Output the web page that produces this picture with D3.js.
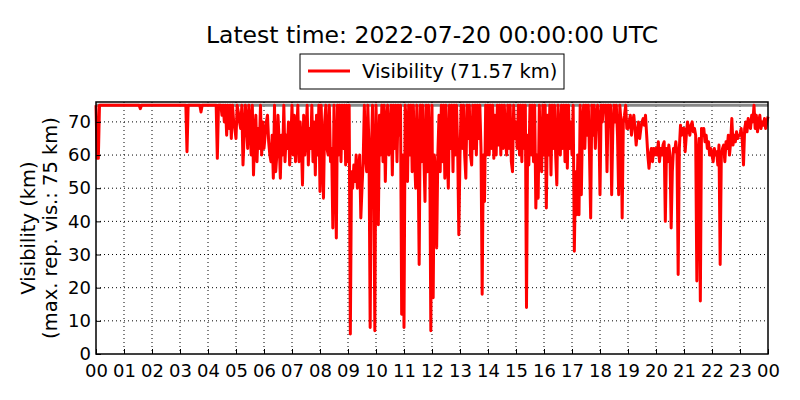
<!DOCTYPE html>
<html>
<head>
<meta charset="utf-8">
<script src="https://cdn.jsdelivr.net/npm/d3@7"></script>
<style>
  body { margin: 0; background: #fff; }
  svg text { font-family: "DejaVu Sans", sans-serif; fill: #000; }
</style>
</head>
<body>
<div id="chart"></div>
<script>
// Chart data
let titleText = 'Latest time: 2022-07-20 00:00:00 UTC'
let seriesName = 'Visibility'
let latestValue = 71.57
let maxReportedVis = 75
let startTime = new Date(Date.UTC(2022, 6, 19, 0, 0))
let endTime = new Date(Date.UTC(2022, 6, 20, 0, 0))
let stepMinutes = 2.5
let yTicks = [0, 10, 20, 30, 40, 50, 60, 70]

// visibility (km), one row per hour, 2.5 min steps
let visibility = [
  75, 59, 59, 75, 75, 75, 75, 75, 75, 75, 75, 75, 75, 75, 75, 75, 75, 75, 75, 75, 75, 75, 75, 75,
  75, 75, 75, 75, 75, 75, 75, 75, 75, 75, 75, 75, 75, 75, 74, 75, 75, 75, 75, 75, 75, 75, 75, 75,
  75, 75, 75, 75, 75, 75, 75, 75, 75, 75, 75, 75, 75, 75, 75, 75, 75, 75, 75, 75, 75, 75, 75, 75,
  75, 75, 75, 75, 75, 75, 61, 75, 75, 75, 75, 75, 75, 75, 75, 75, 75, 75, 73, 75, 75, 75, 75, 75,
  75, 75, 75, 75, 75, 75, 75, 75, 59, 75, 75, 75, 72, 75, 70, 75, 66, 75, 68, 75, 65, 75, 70, 68,
  65, 75, 73, 70, 68, 75, 57, 66, 75, 70, 62, 75, 70, 60, 75, 54, 66, 72, 58, 68, 62, 75, 60, 70,
  62, 66, 70, 72, 64, 60, 58, 66, 53, 75, 55, 60, 72, 64, 53, 66, 60, 75, 58, 66, 62, 70, 57, 64,
  75, 60, 72, 58, 66, 75, 58, 70, 64, 51, 72, 60, 66, 75, 57, 68, 62, 75, 58, 70, 54, 72, 60, 75,
  49, 75, 60, 47, 70, 75, 62, 60, 75, 58, 62, 38, 75, 60, 35, 75, 60, 75, 58, 75, 62, 75, 57, 75,
  58, 75, 6, 55, 50, 57, 52, 60, 50, 55, 60, 41, 50, 58, 75, 60, 55, 75, 62, 8, 60, 75, 58, 7,
  75, 60, 39, 72, 60, 75, 58, 75, 52, 70, 75, 60, 65, 75, 54, 75, 62, 75, 58, 75, 66, 75, 12, 60,
  8, 75, 70, 52, 75, 60, 75, 55, 75, 60, 50, 75, 62, 27, 75, 58, 75, 60, 46, 75, 55, 75, 65, 7,
  75, 17, 60, 55, 32, 60, 72, 55, 75, 58, 75, 53, 75, 60, 50, 75, 62, 75, 55, 75, 60, 75, 62, 36,
  60, 75, 62, 75, 60, 53, 75, 65, 75, 60, 57, 75, 62, 75, 60, 75, 65, 75, 62, 18, 60, 46, 75, 60,
  75, 60, 75, 62, 75, 59, 72, 60, 75, 63, 75, 60, 75, 62, 75, 65, 60, 75, 62, 75, 58, 55, 75, 65,
  70, 62, 75, 60, 75, 58, 75, 62, 75, 14, 66, 57, 75, 60, 75, 58, 75, 44, 60, 47, 75, 60, 55, 75,
  60, 75, 44, 72, 60, 75, 54, 75, 62, 75, 60, 51, 75, 65, 60, 75, 62, 75, 58, 75, 56, 75, 62, 70,
  60, 75, 31, 55, 42, 60, 42, 75, 48, 70, 75, 62, 75, 66, 75, 60, 41, 75, 66, 75, 62, 72, 75, 70,
  48, 75, 70, 75, 73, 75, 55, 75, 70, 75, 48, 68, 75, 70, 75, 66, 48, 75, 70, 41, 70, 72, 75, 68,
  68, 70, 72, 66, 70, 72, 68, 63, 67, 70, 65, 68, 70, 71, 69, 72, 66, 60, 56, 60, 62, 58, 62, 60,
  62, 60, 64, 58, 62, 60, 63, 64, 40, 62, 58, 63, 60, 38, 55, 62, 61, 64, 60, 24, 62, 69, 66, 68,
  68, 61, 66, 70, 68, 66, 69, 70, 67, 68, 66, 22, 60, 65, 16, 68, 66, 68, 64, 66, 62, 64, 60, 62,
  60, 58, 62, 60, 61, 57, 63, 27, 60, 62, 63, 58, 64, 62, 66, 60, 64, 71, 63, 66, 64, 67, 65, 66,
  66, 68, 64, 57, 68, 70, 67, 71, 69, 68, 72, 70, 75, 68, 72, 67, 70, 72, 68, 70, 69, 71, 68, 70,
  71.57
]

// Set bounds
let svgWidth = 800, svgHeight = 400
let margin = { top: 102, right: 32, bottom: 46, left: 96 }
let width = svgWidth - margin.left - margin.right
let height = svgHeight - margin.top - margin.bottom

let dataRows = visibility.map((v, i) => ({
  Date: new Date(startTime.getTime() + i * stepMinutes * 60000),
  Vis: v
}))

let svg = d3.select('#chart')
  .append('svg')
  .attr('width', svgWidth)
  .attr('height', svgHeight)

// Title
svg.append('text')
  .attr('x', margin.left + width / 2)
  .attr('y', 43)
  .attr('text-anchor', 'middle')
  .style('font-size', '23.5px')
  .text(titleText)

let g = svg.append('g')
  .attr('transform', 'translate(' + margin.left + ',' + margin.top + ')')

let x = d3.scaleUtc()
  .domain([startTime, endTime])
  .range([0, width])

let y = d3.scaleLinear()
  .domain([0, 76])
  .range([height, 0])

// Grid lines - dotted
let xTickVals = d3.utcHour.range(startTime, new Date(endTime.getTime() + 1))
g.append('g')
  .selectAll('line')
  .data(xTickVals.slice(1, -1))
  .join('line')
  .attr('x1', d => x(d)).attr('x2', d => x(d))
  .attr('y1', 0).attr('y2', height)
  .attr('stroke', '#000')
  .attr('stroke-width', 1)
  .attr('stroke-dasharray', '1,3')

g.append('g')
  .selectAll('line')
  .data(yTicks.slice(1))
  .join('line')
  .attr('x1', 0).attr('x2', width)
  .attr('y1', d => y(d)).attr('y2', d => y(d))
  .attr('stroke', '#000')
  .attr('stroke-width', 1)
  .attr('stroke-dasharray', '1,3')

// Max reported visibility line
g.append('line')
  .attr('x1', 0).attr('x2', width)
  .attr('y1', y(maxReportedVis)).attr('y2', y(maxReportedVis))
  .attr('stroke', '#888')
  .attr('stroke-width', 3)

// Line generator
let line = d3.line()
  .x(d => x(d.Date))
  .y(d => y(d.Vis))

g.append('path')
  .datum(dataRows)
  .attr('fill', 'none')
  .attr('stroke', '#ff0000')
  .attr('stroke-linejoin', 'round')
  .attr('stroke-width', 3)
  .attr('d', line)

// Axes with inward ticks
let xAxis = g.append('g')
  .attr('transform', 'translate(0,' + height + ')')
  .call(d3.axisBottom(x)
    .tickValues(xTickVals)
    .tickFormat(d3.utcFormat('%H'))
    .tickSizeInner(-5)
    .tickSizeOuter(0)
    .tickPadding(10))
xAxis.select('.domain').remove()
xAxis.selectAll('text').style('font-size', '18px')

let yAxis = g.append('g')
  .call(d3.axisLeft(y)
    .tickValues(yTicks)
    .tickSizeInner(-5)
    .tickSizeOuter(0)
    .tickPadding(5))
yAxis.select('.domain').remove()
yAxis.selectAll('text').style('font-size', '18px')

// Frame
g.append('rect')
  .attr('x', 0).attr('y', 0)
  .attr('width', width).attr('height', height)
  .attr('fill', 'none')
  .attr('stroke', '#000')
  .attr('stroke-width', 1.5)

// Y label
let yLabel = svg.append('text')
  .attr('transform', 'translate(35,' + (margin.top + height / 2) + ') rotate(-90)')
  .attr('text-anchor', 'middle')
  .style('font-size', '19.5px')
yLabel.append('tspan').attr('x', 0).attr('dy', 0).text('Visibility (km)')
yLabel.append('tspan').attr('x', 0).attr('dy', 22).text('(max. rep. vis.: 75 km)')

// Legend
let legend = svg.append('g').attr('transform', 'translate(300,54)')
legend.append('rect')
  .attr('width', 264).attr('height', 35)
  .attr('fill', '#fff')
  .attr('stroke', '#000')
  .attr('stroke-width', 1)
legend.append('line')
  .attr('x1', 8).attr('x2', 50)
  .attr('y1', 17).attr('y2', 17)
  .attr('stroke', '#ff0000')
  .attr('stroke-width', 3)
legend.append('text')
  .attr('x', 62).attr('y', 24)
  .style('font-size', '19.5px')
  .text(seriesName + ' (' + latestValue + ' km)')
</script>
</body>
</html>
